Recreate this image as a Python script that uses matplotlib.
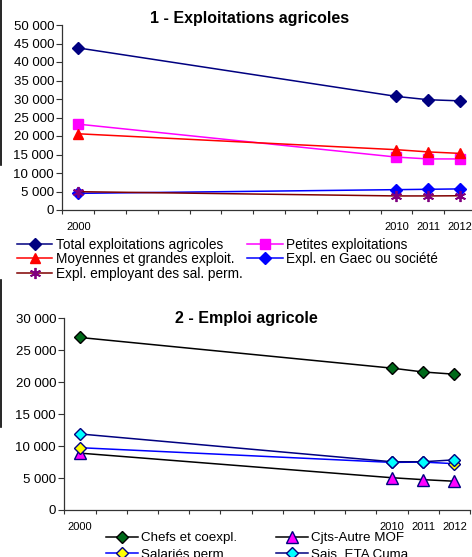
import matplotlib
matplotlib.use("Agg")
import matplotlib.pyplot as plt
from matplotlib.lines import Line2D
import numpy as np

plt.rcParams["font.family"] = ["Liberation Sans", "DejaVu Sans"]

# Categories (Excel-style category axis: 2000, 9 empty slots, 2010-2012)
YEARS = ["2000", "", "", "", "", "", "", "", "", "", "2010", "2011", "2012"]
DATA_YEARS = ["2000", "2010", "2011", "2012"]

# 1 - Exploitations agricoles
total_exploit = [43800, 30700, 29800, 29500]
petites_exploit = [23200, 14300, 13800, 13800]
moyennes_exploit = [20600, 16300, 15700, 15300]
gaec_exploit = [4500, 5500, 5600, 5700]
employant_exploit = [4950, 3800, 3800, 3850]

# 2 - Emploi agricole
chefs = [27000, 22200, 21600, 21250]
cjts_mof = [8900, 5050, 4750, 4500]
salaries_perm = [9750, 7450, 7500, 7250]
sais_eta = [11900, 7550, 7550, 7850]


def fmt_thousands(v):
    return f"{int(v):,}".replace(",", " ")


def setup_axis(ax, ymax, step):
    ax.set_xlim(-0.5, len(YEARS) - 0.5)
    ax.set_ylim(0, ymax)
    ax.set_yticks(np.arange(0, ymax + 1, step))
    ax.set_yticklabels([fmt_thousands(v) for v in np.arange(0, ymax + 1, step)], fontsize=9.5)
    # major ticks between categories, labels at category centres
    ax.set_xticks(np.arange(-0.5, len(YEARS), 1.0))
    ax.set_xticklabels([])
    ax.set_xticks(np.arange(len(YEARS)), minor=True)
    ax.set_xticklabels(YEARS, minor=True, fontsize=8)
    ax.tick_params(axis="x", which="major", direction="out", length=3, width=0.8, color="#333333")
    ax.tick_params(axis="x", which="minor", length=0, pad=9)
    ax.tick_params(axis="y", direction="out", length=4, width=0.8, color="#333333", pad=2)
    for side in ("top", "right"):
        ax.spines[side].set_visible(False)
    for side in ("left", "bottom"):
        ax.spines[side].set_color("#333333")
        ax.spines[side].set_linewidth(0.9)


fig = plt.figure(figsize=(4.72, 5.57), dpi=100)

# ---- Chart 1
ax1 = fig.add_axes([62.4 / 472, 347 / 557, 413.6 / 472, 185 / 557])
ax1.set_facecolor("none")
setup_axis(ax1, 50000, 5000)
xpos = [YEARS.index(y) for y in DATA_YEARS]

l_total, = ax1.plot(xpos, total_exploit, color="#000080", lw=1.1, marker="D", ms=6,
                    mfc="#000080", mec="#000080", label="Total exploitations agricoles")
l_pet, = ax1.plot(xpos, petites_exploit, color="#FF00FF", lw=1.1, marker="s", ms=6.5,
                  mfc="#FF00FF", mec="#FF00FF", label="Petites exploitations")
l_moy, = ax1.plot(xpos, moyennes_exploit, color="#FF0000", lw=1.1, marker="^", ms=7.5,
                  mfc="#FF0000", mec="#FF0000", label="Moyennes et grandes exploit.")
l_gaec, = ax1.plot(xpos, gaec_exploit, color="#0000FF", lw=1.1, marker="D", ms=6,
                   mfc="#0000FF", mec="#0000FF", label="Expl. en Gaec ou société")
l_emp, = ax1.plot(xpos, employant_exploit, color="#800000", lw=1.1, marker=(6, 2, 0), ms=8,
                  mec="#800080", mew=1.3, label="Expl. employant des sal. perm.")

fig.text(250 / 472, 1 - 18.5 / 557, "1 - Exploitations agricoles", ha="center", va="center",
         fontsize=11.5, fontweight="bold")

fig.legend([l_total, l_moy, l_emp, l_pet, l_gaec],
           [h.get_label() for h in [l_total, l_moy, l_emp, l_pet, l_gaec]],
           loc="upper left", bbox_to_anchor=(17 / 472, 1 - 237.5 / 557), ncol=2,
           frameon=False, fontsize=9.8, handlelength=2.6, handletextpad=0.25,
           columnspacing=0.35, labelspacing=0.05, borderpad=0, borderaxespad=0)

# ---- Chart 2
ax2 = fig.add_axes([64.4 / 472, 47 / 557, 405.6 / 472, 191.7 / 557])
ax2.set_facecolor("none")
setup_axis(ax2, 30000, 5000)

l_chefs, = ax2.plot(xpos, chefs, color="black", lw=1.1, marker="D", ms=6.5,
                    mfc="#006a1a", mec="black", label="Chefs et coexpl.")
l_cjts, = ax2.plot(xpos, cjts_mof, color="black", lw=1.1, marker="^", ms=8,
                   mfc="#FF00FF", mec="#000080", label="Cjts-Autre MOF")
l_sal, = ax2.plot(xpos, salaries_perm, color="#0000FF", lw=1.1, marker="D", ms=6.5,
                  mfc="#FFFF00", mec="#000080", label="Salariés perm.")
l_sais, = ax2.plot(xpos, sais_eta, color="#000080", lw=1.1, marker="D", ms=6.5,
                   mfc="#00FFFF", mec="#000080", label="Sais. ETA Cuma")

fig.text(246 / 472, 1 - 318 / 557, "2 - Emploi agricole", ha="center", va="center",
         fontsize=11.5, fontweight="bold")

fig.legend([l_chefs, l_sal, l_cjts, l_sais],
           [h.get_label() for h in [l_chefs, l_sal, l_cjts, l_sais]],
           loc="upper left", bbox_to_anchor=(106 / 472, 1 - 532 / 557), ncol=2,
           frameon=False, fontsize=9.6, handlelength=2.4, handletextpad=0.25,
           columnspacing=2.9, labelspacing=0.33, borderpad=0, borderaxespad=0)

# left border remnants of the original layout
fig.add_artist(Line2D([1 / 472, 1 / 472], [1, 1 - 165 / 557], color="black", lw=1.2))
fig.add_artist(Line2D([1 / 472, 1 / 472], [1 - 280 / 557, 1 - 427 / 557], color="black", lw=1.2))

fig.savefig("out.png", dpi=100)
